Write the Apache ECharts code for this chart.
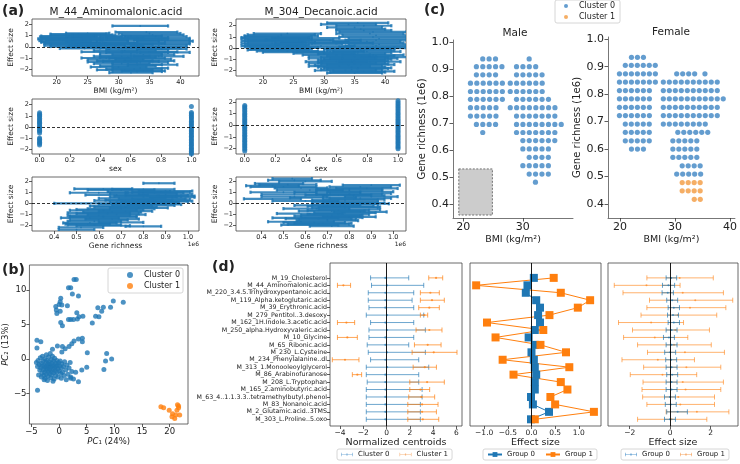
<!DOCTYPE html>
<html><head><meta charset="utf-8">
<script src="https://cdn.jsdelivr.net/npm/echarts@6/dist/echarts.min.js"></script>
<style>html,body{margin:0;padding:0;background:#fff}#c{width:740px;height:464px}</style>
</head><body><div id="c"></div>
<script>
// ---------------- DATA ----------------
// (a) effect size vs BMI : [bmi centre, effect size, half width of x error]
const aminoBmi = [[33.5,1.85,4.5],[25,1.2,3.5],[24,1.05,5],[22,0.95,4.5],[21.5,0.8,4],[22.5,0.7,5],[21,0.55,3.8],[22,0.4,4.5],[23,0.25,5],[22,0.1,4],[24.5,-0.15,4],[26,0.85,4.5],[27,0.6,4.5],[28,0.35,5],[26.5,0.15,4.5],[29,0.75,5],[34.5,1.3,5],[35.5,1.05,5],[36.5,0.75,5],[37.5,0.5,4.5],[37,0.25,4.5],[36,0.0,5],[37,-0.2,4],[32,0.95,5],[31.5,0.55,5],[30.5,0.2,5],[32,-0.1,5],[31,-0.35,5],[33,-0.5,5],[34,-0.7,5],[30.5,-0.85,4.5],[33,-1.0,4.5],[29.5,-1.15,4.5],[32,-1.3,4.5],[35,-1.25,4],[30.5,-1.5,4.5],[33,-1.6,4],[30,-1.8,4.5],[33.5,-1.9,4.5],[31,-2.05,4.5],[34,-2.15,3.5],[32,-2.3,3.5],[28,-1.0,4],[28.5,-0.45,4.5],[36.5,-0.85,4],[37.5,-0.5,4],
 [23.5,1.12,4.5],[21.8,0.88,4.5],[22.8,0.62,4.5],[21.5,0.48,4],[22.5,0.32,4.5],[23.5,0.18,4.5],[23,0.02,4],[25.5,-0.05,4],[27,0.72,4.5],[26.5,0.45,5],[28.5,0.25,4.5],[29.5,0.05,4.5],[35,1.18,5],[36,0.9,5],[37,0.62,4.5],[36.5,0.38,5],[36.5,0.12,4.5],[35,-0.1,5],[33,0.82,5],[33,0.68,5],[32.5,0.3,5],[33,-0.25,5],[32,-0.6,5],[35,-0.45,4.5],[32,-0.78,5],[31.5,-0.95,4.5],[34,-1.1,4.5],[31,-1.25,4.5],[33.5,-1.4,4.5],[31.5,-1.7,4.5],[32.5,-1.98,4.5],[33,-2.2,4],[29,-1.35,4],[35.5,-1.6,4],[26,1.02,3.5],[20.5,0.7,3.5]];
const decanoicBmi = [[35.5,2.25,5],[36.5,2.0,4.5],[36,1.7,4],[24,1.3,5.5],[38,1.45,5.5],[23,1.1,6],[22,0.95,5.5],[22.5,0.8,5.5],[21.5,0.65,5],[23,0.5,5.5],[22,0.35,5],[21,0.2,4.5],[23.5,0.05,5.5],[22.5,-0.15,5],[25,-0.35,5],[27,0.9,5.5],[28.5,0.55,5.5],[29.5,0.2,5.5],[38.5,1.15,5.5],[39,0.85,5],[37,0.6,5.5],[39,0.35,5],[38,0.1,5.5],[35.5,-0.1,5.5],[37,-0.3,5.5],[34.5,-0.5,5.5],[38,-0.6,5],[33,-0.75,5.5],[36.5,-0.9,5.5],[34.5,-1.05,5.5],[37.5,-1.2,5],[33,-1.35,5.5],[36,-1.45,5.5],[32.5,-1.6,5],[35.5,-1.75,5.5],[34.5,-1.9,5],[36.5,-2.05,5],[35,-2.2,4.5],[32,-1.2,5],[31,-0.3,5.5],[40,-0.8,4],[40.5,0.0,3.5],
 [34,2.12,4.5],[35,1.85,4.5],[36.5,1.58,4.5],[23,1.2,5.5],[22.5,1.02,5.5],[22,0.88,5.5],[22.5,0.72,5],[22,0.58,5],[21.5,0.42,5],[22.5,0.28,5],[22,0.12,5],[23,-0.05,5],[24,-0.25,5],[26,0.75,5.5],[27.5,0.38,5.5],[29,0.05,5.5],[37.5,1.3,5.5],[38,1.0,5.5],[38.5,0.72,5],[37.5,0.48,5.5],[38.5,0.22,5],[36,0.0,5.5],[36,-0.2,5.5],[35.5,-0.4,5.5],[36,-0.68,5.5],[35,-0.82,5.5],[35.5,-0.98,5.5],[35,-1.12,5.5],[34.5,-1.28,5.5],[35,-1.4,5.5],[34,-1.52,5.5],[34.5,-1.68,5.5],[35.5,-1.82,5],[33.5,-1.98,5],[35.5,-2.12,4.5],[33,-0.9,5.5],[32,-0.6,5.5],[30,-0.45,5],[33,0.45,5],[31,0.7,5]];
// (a) effect size by sex
const aminoSex0 = [1.28,1.15,1.02,0.93,0.78,0.66,0.55,0.41,0.33,0.18,0.06,-0.04,-0.17,-0.29,-0.38,-0.52,-0.97,-1.08,-1.22,-1.35,-1.47,-1.6,-2.52];
const aminoSex1 = [1.83,1.3,1.18,1.05,0.9,0.8,0.64,0.5,0.38,0.25,0.12,-0.02,-0.15,-0.3,-0.42,-0.55,-0.7,-0.81,-0.96,-1.1,-1.23,-1.37,-1.5,-1.62,-1.78,-1.9,-2.03,-2.15,-2.28,-2.4];
const decanoicSex0 = [1.7,1.58,1.45,1.3,1.18,1.02,0.9,0.77,0.63,0.5,0.36,0.24,0.1,-0.03,-0.16,-0.3,-0.42,-0.57,-0.7,-0.84,-0.96,-1.1,-1.25,-1.37,-1.5,-1.64,-1.77,-1.9,-2.05,-2.2];
const decanoicSex1 = [2.1,1.95,1.8,1.66,1.52,1.38,1.22,1.08,0.95,0.8,0.66,0.52,0.4,0.27,0.13,0.0,-0.12,-0.26,-0.4,-0.53,-0.66,-0.8,-0.93,-1.07,-1.2,-1.34,-1.47,-1.6,-1.74,-1.87,-2.0];
// (a) effect size vs gene richness (1e6): [centre, effect, half width]
const aminoRich = [[0.87,1.8,0.07],[0.62,1.3,0.13],[0.7,1.2,0.15],[0.78,1.05,0.14],[0.85,0.95,0.13],[0.9,0.8,0.12],[0.82,0.65,0.15],[0.93,0.55,0.1],[0.75,0.45,0.15],[0.88,0.35,0.13],[0.72,0.25,0.14],[0.8,0.1,0.15],[0.6,0.0,0.2],[0.85,-0.1,0.12],[0.7,-0.25,0.14],[0.78,-0.4,0.13],[0.65,-0.55,0.15],[0.72,-0.7,0.12],[0.6,-0.85,0.14],[0.68,-1.0,0.13],[0.62,-1.15,0.15],[0.56,-1.3,0.13],[0.66,-1.4,0.12],[0.58,-1.6,0.12],[0.7,-1.7,0.1],[0.55,-1.85,0.1],[0.62,-2.0,0.12],[0.52,-2.15,0.1],[0.5,-2.35,0.08],[0.8,-2.05,0.08],[0.68,0.75,0.14],[0.92,0.2,0.1],[0.95,0.65,0.08],[0.6,0.95,0.13],
 [0.8,1.25,0.14],[0.9,1.1,0.12],[0.88,1.0,0.13],[0.8,0.88,0.15],[0.86,0.7,0.14],[0.8,0.58,0.15],[0.84,0.4,0.15],[0.78,0.3,0.15],[0.85,0.18,0.15],[0.82,0.05,0.14],[0.75,-0.05,0.15],[0.8,-0.18,0.14],[0.72,-0.33,0.14],[0.7,-0.48,0.15],[0.62,-0.62,0.15],[0.66,-0.78,0.13],[0.64,-0.92,0.14],[0.6,-1.08,0.14],[0.62,-1.22,0.15],[0.6,-1.48,0.13],[0.56,-1.75,0.12],[0.58,-1.92,0.12]];
const decanoicRich = [[0.54,2.25,0.09],[0.6,2.0,0.12],[0.48,1.8,0.11],[0.45,1.6,0.12],[0.5,1.5,0.15],[0.58,1.4,0.12],[0.9,1.65,0.13],[0.88,1.35,0.14],[0.62,1.2,0.15],[0.8,1.15,0.15],[0.7,1.0,0.15],[0.85,0.9,0.14],[0.75,0.75,0.15],[0.9,0.6,0.12],[0.68,0.5,0.15],[0.82,0.35,0.14],[0.6,0.2,0.15],[0.78,0.1,0.15],[0.85,-0.05,0.13],[0.7,-0.2,0.15],[0.8,-0.35,0.14],[0.65,-0.5,0.15],[0.75,-0.65,0.14],[0.85,-0.8,0.12],[0.62,-0.95,0.15],[0.72,-1.1,0.14],[0.8,-1.25,0.12],[0.6,-1.35,0.15],[0.7,-1.5,0.13],[0.58,-1.7,0.15],[0.68,-1.85,0.13],[0.62,-2.0,0.13],[0.72,-2.1,0.1],[0.55,0.8,0.15],[0.45,0.4,0.13],
 [0.55,2.1,0.12],[0.52,1.7,0.13],[0.85,1.5,0.14],[0.8,1.28,0.15],[0.85,1.05,0.15],[0.8,0.82,0.15],[0.82,0.68,0.14],[0.85,0.45,0.14],[0.78,0.28,0.15],[0.82,0.02,0.14],[0.78,-0.12,0.15],[0.76,-0.28,0.15],[0.78,-0.42,0.15],[0.8,-0.58,0.14],[0.72,-0.72,0.15],[0.78,-0.88,0.14],[0.75,-1.02,0.14],[0.7,-1.18,0.15],[0.72,-1.32,0.14],[0.66,-1.42,0.15],[0.7,-1.6,0.14],[0.64,-1.78,0.14],[0.66,-1.92,0.14],[0.5,1.0,0.15],[0.55,0.6,0.15]];

// (b) PCA scores [PC1, PC2]
const pcaCluster0 = [[-4.1,-0.5],[-3.9,-1.1],[-3.8,-0.2],[-3.6,-0.8],[-3.5,-1.6],[-3.4,0.2],[-3.3,-1.3],[-3.2,-0.6],[-3.1,-2.0],[-3.0,-1.0],[-3.0,0.4],[-2.9,-0.3],[-2.8,-1.5],[-2.8,-2.4],[-2.7,-0.9],[-2.6,0.0],[-2.6,-1.9],[-2.5,-1.2],[-2.5,-2.8],[-2.4,-0.5],[-2.4,-1.6],[-2.3,0.6],[-2.3,-2.2],[-2.2,-1.0],[-2.2,-0.2],[-2.1,-1.4],[-2.1,-3.1],[-2.0,-0.7],[-2.0,-2.5],[-1.9,-1.8],[-1.9,0.3],[-1.8,-1.1],[-1.8,-0.4],[-1.7,-2.1],[-1.7,-1.5],[-1.6,-0.8],[-1.6,0.8],[-1.5,-2.7],[-1.5,-1.2],[-1.4,-0.1],[-1.4,-1.8],[-1.3,-0.6],[-1.3,-2.3],[-1.2,-1.0],[-1.2,0.4],[-1.1,-1.5],[-1.0,-0.3],[-1.0,-2.0],[-0.9,-0.9],[-0.9,-2.9],[-0.8,-1.3],[-0.8,0.1],[-0.7,-1.7],[-0.6,-0.6],[-0.6,-2.4],[-0.5,-1.1],[-0.4,-0.2],[-0.4,-1.9],[-0.3,-0.9],[-0.2,-1.4],[-0.2,-2.6],[-0.1,-0.5],[0.0,-1.7],[0.1,-1.0],[0.2,-0.3],[0.3,-2.1],[0.4,-1.3],[0.5,-0.7],[0.6,-1.9],[0.8,-1.1],[0.9,-2.4],[1.0,-0.4],[1.2,-1.6],[1.4,-0.9],[1.6,-2.2],[1.8,-1.3],[2.0,-0.5],[2.3,-1.8],[2.6,-2.9],[2.1,-2.6],[-3.7,-2.3],[-3.2,-2.6],[-2.7,-3.0],[-1.1,-3.2],[0.4,-2.8],[1.3,-3.0],
 [10.2,12.3],[10.2,11.8],[2.7,11.5],[3.1,11.5],[1.7,10.3],[2.1,10.3],[2.4,9.4],[3.5,9.1],[0.3,8.8],[0.2,8.3],[0.0,7.9],[-0.6,7.6],[0.5,7.8],[1.5,7.7],[-0.5,7.1],[0.2,6.9],[-0.4,6.6],[3.2,6.7],[4.3,6.2],[1.7,5.7],[2.1,5.7],[2.6,5.7],[3.3,5.8],[3.6,6.1],[0.3,5.3],[0.6,4.8],[6.0,5.2],[7.2,6.1],[6.6,6.2],[7.7,6.9],[8.0,7.5],[9.3,7.5],[9.8,8.4],[11.6,8.2],[7.0,7.4],
 [4.2,2.5],[4.2,3.0],[3.5,2.9],[2.7,2.6],[2.3,2.2],[1.8,1.8],[1.1,1.5],[0.5,1.0],[0.6,1.8],[-0.3,1.9],[-1.2,1.4],[-4.0,2.7],[-3.3,2.5],[-4.0,1.6],
 [5.1,0.9],[8.6,0.8],[8.4,-0.3],[9.5,0.0],[8.1,-1.5],[5.0,-1.2],[4.1,-1.6],[3.5,-3.3],[2.1,-2.8],[3.0,-1.9],[-3.9,-4.5]];
const pcaCluster1 = [[18.4,-6.9],[18.9,-7.05],[19.9,-7.4],[20.5,-7.9],[20.4,-8.35],[21.1,-8.1],[21.3,-7.4],[21.4,-6.6],[21.6,-7.05],[21.8,-8.1],[20.9,-8.6],[21.6,-6.8]];

// (c) swarm rows: [gene richness (1e6), BMI of first dot, number of dots]
const maleCluster0 = [[0.938,23.28,3],[0.909,22.22,5],[0.879,22.22,4],[0.848,21.22,6],[0.817,21.22,6],[0.788,21.22,6],[0.757,21.22,5],[0.726,21.22,5],[0.695,22.22,4],[0.665,23.28,1],
 [0.938,31.06,1],[0.909,28.94,4],[0.879,28.94,5],[0.848,27.89,6],[0.817,27.89,6],[0.788,28.94,6],[0.757,27.89,8],[0.726,28.94,7],[0.695,28.94,8],[0.665,28.94,7],[0.635,30.0,6],[0.604,30.0,5],[0.573,31.06,4],[0.542,30.0,5],[0.511,31.06,4],[0.481,32.11,1]];
const femaleCluster0 = [[0.934,22.07,3],[0.905,20.95,6],[0.874,19.88,7],[0.844,19.88,7],[0.813,19.88,6],[0.783,19.88,6],[0.752,19.88,6],[0.722,19.88,6],[0.691,20.95,5],[0.661,20.95,5],[0.630,20.95,5],[0.600,22.07,3],
 [0.874,30.3,4],[0.874,35.44,1],[0.844,27.87,10],[0.813,27.87,10],[0.783,27.87,11],[0.752,27.87,10],[0.722,27.87,10],[0.691,27.87,8],[0.661,30.5,6],[0.630,29.6,5],[0.600,29.6,5],[0.570,29.6,5],[0.539,31.3,4],[0.509,30.3,5]];
const femaleCluster1 = [[0.478,31.3,4],[0.448,31.3,4],[0.417,33.5,2]];
const maleShadedBox = [[19.27,0.530],[24.9,0.359]];

// (d)
const metabolites = ['M_19_Cholesterol','M_44_Aminomalonic.acid','M_220_3.4.5.Trihydroxypentanoic.acid','M_119_Alpha.ketoglutaric.acid','M_39_Erythronic.acid','M_279_Pentitol..3.desoxy','M_162_1H.Indole.3.acetic.acid','M_250_alpha.Hydroxyvaleric.acid','M_10_Glycine','M_65_Ribonic.acid','M_230_L.Cysteine','M_234_Phenylalanine..dl','M_313_1.Monooleoylglycerol','M_86_Arabinofuranose','M_208_L.Tryptophan','M_165_2.aminobutyric.acid','M_63_4..1.1.3.3..tetramethylbutyl.phenol','M_83_Nonanoic.acid','M_2_Glutamic.acid..3TMS','M_303_L.Proline..5.oxo'];
const centroid0Mean = [-0.1,0.05,-0.1,-0.1,-0.1,0.05,-0.1,0.05,-0.1,-0.1,0.05,-0.1,0.05,-0.1,-0.1,-0.1,-0.1,-0.1,-0.1,-0.1];
const centroid0Low  = [-1.37,-1.29,-1.57,-1.57,-1.51,-1.74,-1.37,-1.51,-1.51,-1.66,-1.57,-1.37,-1.74,-1.74,-1.66,-1.74,-1.74,-1.74,-1.74,-1.74];
const centroid0High = [1.91,3.2,2.34,2.2,2.34,3.2,2.34,3.34,2.34,1.91,3.34,2.77,3.63,2.77,2.77,3.06,3.06,2.91,2.91,2.91];
const centroid1Mean = [4.26,-3.71,3.77,3.91,3.68,3.26,-3.45,3.68,-3.37,3.54,4.06,-3.57,3.29,-2.51,3.49,2.91,3.0,3.06,3.06,3.12];
const centroid1Low  = [3.63,-4.22,2.91,2.91,2.77,2.91,-4.22,2.54,-4.22,2.4,2.2,-4.66,2.29,-2.94,2.0,2.0,1.91,1.83,1.83,1.83];
const centroid1High = [4.83,-3.09,4.54,4.97,4.54,3.54,-2.74,4.77,-2.51,4.69,6.06,-2.37,4.29,-2.14,4.97,3.71,4.14,4.43,4.29,4.49];
const group0Effect = [0.05,-0.085,-0.12,0.10,0.18,0.14,0.18,0.07,-0.06,0.07,0.0,0.05,0.07,0.10,0.07,0.07,-0.01,0.03,0.37,-0.01];
const group1Effect = [0.47,-1.17,0.62,1.24,0.98,0.38,-0.94,0.25,-0.76,0.19,0.73,-0.61,0.80,-0.38,0.62,0.76,0.40,0.50,1.32,0.07];
const group0Low  = [-0.2,-0.38,-0.4,-0.17,-0.1,-0.13,-0.1,-0.2,-0.33,-0.2,-0.27,-0.22,-0.2,-0.17,-0.2,-0.2,-0.28,-0.24,-0.17,-0.28];
const group0High = [0.32,0.22,0.16,0.37,0.46,0.41,0.46,0.34,0.21,0.34,0.27,0.32,0.34,0.37,0.34,0.34,0.26,0.3,0.85,0.26];
const group1Low  = [-1.15,-2.76,-2.33,-1.02,-1.15,-1.44,-2.55,-1.86,-2.30,-1.61,-1.12,-2.38,-1.31,-1.97,-1.34,-1.39,-1.36,-1.15,-0.20,-1.61];
const group1High = [2.13,0.49,2.63,3.09,2.75,2.30,0.66,1.94,0.87,2.03,2.68,1.20,2.50,1.31,2.63,2.50,2.19,2.19,2.90,1.81];

// tick labels
const bmiTicks = [20,25,30,35,40];
const effTicks = [-2,-1,0,1,2];
const sexTicks = [0,0.2,0.4,0.6,0.8,1.0];
const richTicks = [0.4,0.5,0.6,0.7,0.8,0.9,1.0];
const pc1Ticks = [-5,0,5,10,15,20];
const pc2Ticks = [-5,0,5,10];
const swarmYTicks = [0.4,0.5,0.6,0.7,0.8,0.9,1.0];
const centroidTicks = [-4,-2,0,2,4,6];
const effDTicks = [-1,-0.5,0,0.5,1];
const effD3Ticks = [-2,0,2];

// ---------------- STYLE / HELPERS ----------------
const BLUE='#1f77b4', ORANGE='#ff7f0e', SW_BLUE='#3d85c3', SW_ORANGE='#f39a3e';
const FONT='DejaVu Sans', TXT='#222';
const fmt = d => v => (v < -1e-9 ? '\u2212' : '') + Math.abs(v).toFixed(d);

const grids=[], xAxes=[], yAxes=[], series=[];
function boxGrid(g, framed){ grids.push(Object.assign({containLabel:false, show:!!framed, borderColor:'#444', borderWidth:0.8, backgroundColor:'transparent'}, g)); return grids.length-1; }
function axis(gi, o){
  return {
    gridIndex:gi, type:'value', min:o.min, max:o.max, inverse:!!o.inverse, position:o.pos,
    splitLine:{show:false},
    axisLine:{show:!!o.line, onZero:false, lineStyle:{color:'#777', width:1}},
    axisTick:{show:o.ticks!==null, customValues:o.ticks||[], length:o.tl||3, lineStyle:{color:'#333', width:0.8}},
    axisLabel:{show:o.ticks!==null, customValues:o.ticks||[], formatter:o.fmt||fmt(0), fontSize:o.fs||7, color:TXT, fontFamily:FONT, margin:o.margin||3},
    name:o.name||'', nameLocation:'middle', nameGap:o.gap||10, nameRotate:o.rot||0,
    nameTextStyle:{fontSize:o.nfs||8, color:TXT, fontFamily:FONT, rich:o.rich}
  };
}
function addPanel(g, framed, xo, yo){ const gi=boxGrid(g, framed); xAxes.push(axis(gi,xo)); yAxes.push(axis(gi,yo)); return xAxes.length-1; }

function errSeries(name, ai, rows, color, o){
  return {
    type:'custom', name:name, xAxisIndex:ai, yAxisIndex:ai, clip:true, silent:true, z:o.z||2,
    data:rows, encode:{x:[0,1], y:2},
    renderItem:function(params, api){
      const y=api.value(2);
      const a=api.coord([api.value(0),y]), b=api.coord([api.value(1),y]);
      const st={stroke:color, lineWidth:o.lw, opacity:o.op};
      const ch=[{type:'line', shape:{x1:a[0],y1:a[1],x2:b[0],y2:b[1]}, style:st}];
      if(o.cap){
        ch.push({type:'line', shape:{x1:a[0],y1:a[1]-o.cap,x2:a[0],y2:a[1]+o.cap}, style:st});
        ch.push({type:'line', shape:{x1:b[0],y1:b[1]-o.cap,x2:b[0],y2:b[1]+o.cap}, style:st});
      }
      if(o.dot){ const c=api.coord([api.value(3),y]); ch.push({type:'circle', shape:{cx:c[0],cy:c[1],r:o.dot}, style:{fill:color, opacity:o.op}}); }
      return {type:'group', children:ch};
    },
    markLine:o.mark
  };
}
const dashZero = {silent:true, symbol:'none', label:{show:false}, lineStyle:{type:[3,2], color:'#000', width:0.8}, data:[{yAxis:0}]};
const solidZeroX = {silent:true, symbol:'none', label:{show:false}, lineStyle:{type:'solid', color:'#000', width:0.9}, data:[{xAxis:0}]};
const triples = arr => arr.map(r => [r[0]-r[2], r[0]+r[2], r[1], r[0]]);
const effY = {ticks:effTicks, name:'Effect size', rot:90, gap:12, fs:6.5, nfs:7.5};
const barStyle = {lw:2.2, cap:1.6, dot:0.9, op:0.85, mark:dashZero};

// ---------------- PANEL (a) ----------------
let ai;
ai = addPanel({left:32, top:19, width:167, height:57}, true, {min:16, max:43, ticks:bmiTicks, name:'BMI (kg/m\u00b2)', gap:9, fs:6.5, nfs:7.5}, Object.assign({min:-2.6, max:2.47}, effY));
series.push(errSeries('a1', ai, triples(aminoBmi), BLUE, barStyle));
ai = addPanel({left:236, top:19, width:170, height:57}, true, {min:15.6, max:43.4, ticks:bmiTicks, name:'BMI (kg/m\u00b2)', gap:9, fs:6.5, nfs:7.5}, Object.assign({min:-2.47, max:2.6}, effY, {gap:10}));
series.push(errSeries('a2', ai, triples(decanoicBmi), BLUE, barStyle));

function sexSeries(ai, v0, v1){
  const d = v0.map(v=>[0,v]).concat(v1.map(v=>[1,v]));
  return {type:'scatter', xAxisIndex:ai, yAxisIndex:ai, data:d, symbolSize:5, itemStyle:{color:BLUE}, silent:true, clip:true, markLine:dashZero};
}
ai = addPanel({left:32, top:99, width:167, height:55}, true, {min:-0.05, max:1.05, ticks:sexTicks, fmt:fmt(1), name:'sex', gap:9, fs:6.5, nfs:7.5}, Object.assign({min:-2.4, max:2.5}, effY));
series.push(sexSeries(ai, aminoSex0, aminoSex1));
ai = addPanel({left:236, top:99, width:170, height:55}, true, {min:-0.057, max:1.052, ticks:sexTicks, fmt:fmt(1), name:'sex', gap:9, fs:6.5, nfs:7.5}, Object.assign({min:-2.45, max:2.25}, effY, {gap:10}));
series.push(sexSeries(ai, decanoicSex0, decanoicSex1));

ai = addPanel({left:32, top:177, width:167, height:54}, true, {min:0.3, max:1.05, ticks:richTicks, fmt:fmt(1), name:'Gene richness', gap:9, fs:6.5, nfs:7.5}, Object.assign({min:-2.47, max:2.36}, effY));
series.push(errSeries('a5', ai, triples(aminoRich), BLUE, barStyle));
ai = addPanel({left:236, top:177, width:170, height:54}, true, {min:0.284, max:1.058, ticks:richTicks, fmt:fmt(1), name:'Gene richness', gap:9, fs:6.5, nfs:7.5}, Object.assign({min:-2.55, max:2.4}, effY, {gap:10}));
series.push(errSeries('a6', ai, triples(decanoicRich), BLUE, barStyle));

// ---------------- PANEL (b) ----------------
const itRich = {i:{fontStyle:'italic', fontSize:8.5, fontFamily:FONT, color:TXT}};
ai = addPanel({left:29, top:265, width:159, height:159}, true,
  {min:-5.36, max:23.3, ticks:pc1Ticks, fs:8.5, nfs:8.5, name:'{i|PC}\u2081 (24%)', gap:13, rich:itRich},
  {min:-9.4, max:13.6, ticks:pc2Ticks, fs:8.5, nfs:8.5, rot:90, name:'{i|PC}\u2082 (13%)', gap:13, rich:itRich});
series.push({type:'scatter', name:'Cluster 0', xAxisIndex:ai, yAxisIndex:ai, data:pcaCluster0, symbolSize:5, itemStyle:{color:BLUE}, silent:true});
series.push({type:'scatter', name:'Cluster 1', xAxisIndex:ai, yAxisIndex:ai, data:pcaCluster1, symbolSize:5, itemStyle:{color:ORANGE}, silent:true});

// ---------------- PANEL (c) ----------------
const MALE_STEP = 1.07, FEMALE_STEP = 1.09;   // swarm dot spacing (layout)
function swarm(rows, step){ const out=[]; rows.forEach(r=>{ for(let k=0;k<r[2];k++) out.push([r[1]+k*step, r[0]]); }); return out; }
const swY = (extra) => Object.assign({ticks:swarmYTicks, fmt:fmt(1), fs:11, nfs:10, rot:90, name:'Gene richness (1e6)', gap:21, line:true, margin:4, tl:3.5}, extra);
ai = addPanel({left:453, top:40, width:120, height:178}, false, {min:18.3, max:38.4, ticks:[20,30], fs:11, nfs:9.5, name:'BMI (kg/m\u00b2)', gap:17, line:true, margin:4, tl:3.5}, swY({min:0.348, max:1.008}));
series.push({type:'scatter', name:'Cluster 0', xAxisIndex:ai, yAxisIndex:ai, data:swarm(maleCluster0, MALE_STEP), symbolSize:5.2, itemStyle:{color:SW_BLUE}, silent:true,
  markArea:{silent:true, itemStyle:{color:'#cccccc', borderColor:'#555', borderType:[2,1.5], borderWidth:0.8}, data:[[{coord:maleShadedBox[0]},{coord:maleShadedBox[1]}]]}});
ai = addPanel({left:608, top:37, width:130, height:181}, false, {min:17.8, max:40.9, ticks:[20,30,40], fs:11, nfs:9.5, name:'BMI (kg/m\u00b2)', gap:17, line:true, margin:4, tl:3.5}, swY({min:0.349, max:1.008, gap:20}));
series.push({type:'scatter', name:'Cluster 0', xAxisIndex:ai, yAxisIndex:ai, data:swarm(femaleCluster0, FEMALE_STEP), symbolSize:5.2, itemStyle:{color:SW_BLUE}, silent:true});
series.push({type:'scatter', name:'Cluster 1', xAxisIndex:ai, yAxisIndex:ai, data:swarm(femaleCluster1, FEMALE_STEP), symbolSize:5.2, itemStyle:{color:SW_ORANGE}, silent:true});

// ---------------- PANEL (d) ----------------
const rowIdx = metabolites.map((_,i)=>i);
const dY = (show) => ({min:-2.0, max:19.9, inverse:true, ticks: show ? rowIdx : null, fmt: v => metabolites[Math.round(v)] || '', fs:6.3, margin:3, tl:3});
ai = addPanel({left:330, top:263, width:132, height:163}, true, {min:-4.86, max:6.49, ticks:centroidTicks, fs:7.5, nfs:9.5, name:'Normalized centroids', gap:11}, dY(true));
series.push(errSeries('Cluster 0', ai, rowIdx.map(i=>[centroid0Low[i], centroid0High[i], i, centroid0Mean[i]]), BLUE, {lw:1, cap:2.5, dot:1.1, op:0.65, mark:solidZeroX}));
series.push(errSeries('Cluster 1', ai, rowIdx.map(i=>[centroid1Low[i], centroid1High[i], i, centroid1Mean[i]]), ORANGE, {lw:1, cap:2.5, dot:1.1, op:0.7}));
ai = addPanel({left:470, top:263, width:131, height:163}, true, {min:-1.30, max:1.47, ticks:effDTicks, fmt:fmt(1), fs:7.5, nfs:9.5, name:'Effect size', gap:11}, dY(false));
series.push({type:'line', name:'Group 0', xAxisIndex:ai, yAxisIndex:ai, data:rowIdx.map(i=>[group0Effect[i], i]), symbol:'rect', symbolSize:8, lineStyle:{width:1, color:BLUE}, itemStyle:{color:BLUE}, silent:true, markLine:solidZeroX});
series.push({type:'line', name:'Group 1', xAxisIndex:ai, yAxisIndex:ai, data:rowIdx.map(i=>[group1Effect[i], i]), symbol:'rect', symbolSize:8, lineStyle:{width:1, color:ORANGE}, itemStyle:{color:ORANGE}, silent:true});
ai = addPanel({left:608, top:263, width:130, height:163}, true, {min:-3.07, max:3.35, ticks:effD3Ticks, fs:7.5, nfs:9.5, name:'Effect size', gap:11}, dY(false));
series.push(errSeries('Group 1', ai, rowIdx.map(i=>[group1Low[i], group1High[i], i, group1Effect[i]]), ORANGE, {lw:1, cap:2.5, dot:1, op:0.6, mark:solidZeroX}));
series.push(errSeries('Group 0', ai, rowIdx.map(i=>[group0Low[i], group0High[i], i, group0Effect[i]]), BLUE, {lw:1, cap:2.5, dot:1, op:0.7}));

// ---------------- LEGENDS ----------------
const ERR_ICON = 'path://M0,4.5h20v1h-20z M0,2h1v6h-1z M19,2h1v6h-1z M9,3.5h2v3h-2z';
const lgBase = {selectedMode:false, backgroundColor:'#fff', borderColor:'#ccc', borderWidth:0.8, borderRadius:2};
const lgText = fs => ({fontFamily:FONT, color:TXT, fontSize:fs});
const legends = [
  Object.assign({}, lgBase, {left:108, top:268, orient:'vertical', padding:[3,3,3,19], itemGap:3, itemWidth:6, itemHeight:6,
    textStyle:Object.assign(lgText(8), {padding:[0,0,0,6]}),
    data:[{name:'Cluster 0', icon:'circle', itemStyle:{color:BLUE}}, {name:'Cluster 1', icon:'circle', itemStyle:{color:ORANGE}}]}),
  Object.assign({}, lgBase, {left:555, top:0, orient:'vertical', padding:[2,5,2,9], itemGap:3, itemWidth:4, itemHeight:4,
    textStyle:Object.assign(lgText(8), {padding:[0,0,0,6]}),
    data:[{name:'Cluster 0', icon:'circle', itemStyle:{color:SW_BLUE}}, {name:'Cluster 1', icon:'circle', itemStyle:{color:SW_ORANGE}}]}),
  Object.assign({}, lgBase, {left:337, top:449, orient:'horizontal', padding:[2,4,2,4], itemGap:10, itemWidth:12, itemHeight:6,
    textStyle:lgText(7), data:[{name:'Cluster 0', icon:ERR_ICON, itemStyle:{color:'#5b9bd0'}}, {name:'Cluster 1', icon:ERR_ICON, itemStyle:{color:'#f5a25d'}}]}),
  Object.assign({}, lgBase, {left:483, top:449, orient:'horizontal', padding:[2,4,2,4], itemGap:10, itemWidth:14, itemHeight:6,
    textStyle:lgText(7), data:['Group 0','Group 1']}),
  Object.assign({}, lgBase, {left:621, top:449, orient:'horizontal', padding:[2,4,2,4], itemGap:10, itemWidth:12, itemHeight:6,
    textStyle:lgText(7), data:[{name:'Group 0', icon:ERR_ICON, itemStyle:{color:'#5b9bd0'}}, {name:'Group 1', icon:ERR_ICON, itemStyle:{color:'#f5a25d'}}]})
];

// ---------------- TEXTS ----------------
const T = (x,y,text,o) => ({type:'text', x:x, y:y, silent:true, style:Object.assign({text:text, fontFamily:FONT, fill:TXT, fontSize:12, textAlign:'center', textVerticalAlign:'middle'}, o||{})});
const graphic = [
  T(2,11,'(a)',{fontSize:14, fontWeight:'bold', textAlign:'left'}),
  T(2,270,'(b)',{fontSize:14, fontWeight:'bold', textAlign:'left'}),
  T(424,10,'(c)',{fontSize:14, fontWeight:'bold', textAlign:'left'}),
  T(212,267,'(d)',{fontSize:14, fontWeight:'bold', textAlign:'left'}),
  T(116,12,'M_44_Aminomalonic.acid',{fontSize:10.5}),
  T(321,12,'M_304_Decanoic.acid',{fontSize:10.5}),
  T(515,33,'Male',{fontSize:10.5}),
  T(671,32,'Female',{fontSize:10.5}),
  T(199,244,'1e6',{fontSize:6, textAlign:'right'}),
  T(406,244,'1e6',{fontSize:6, textAlign:'right'})
];

const chart = echarts.init(document.getElementById('c'), null, {renderer:'canvas'});
chart.setOption({animation:false, backgroundColor:'#fff', grid:grids, xAxis:xAxes, yAxis:yAxes, series:series, legend:legends, graphic:graphic});
</script></body></html>
